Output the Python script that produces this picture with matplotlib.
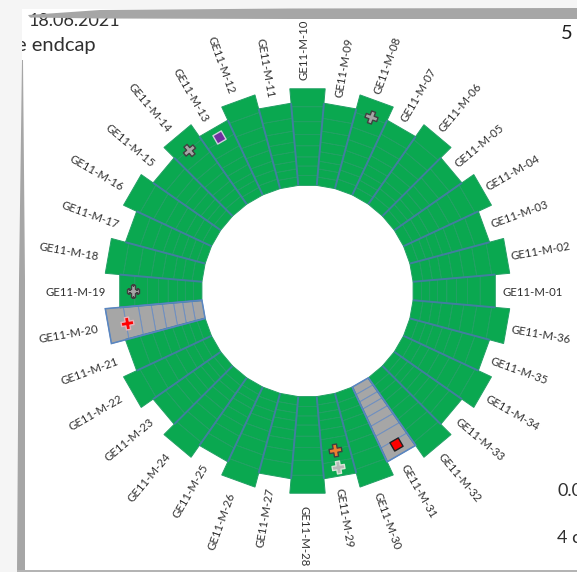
import numpy as np
import matplotlib
matplotlib.use("Agg")
import matplotlib.pyplot as plt
from matplotlib.markers import MarkerStyle
from matplotlib.patches import Polygon, Rectangle
from matplotlib.transforms import Affine2D

W, H = 577, 572
CX, CY = 307.5, 291
R_AX = 262

# chambers, M-01 sits at 0 deg and numbers go counter clockwise
chambers = ["GE11-M-01", "GE11-M-02", "GE11-M-03", "GE11-M-04", "GE11-M-05", "GE11-M-06",
            "GE11-M-07", "GE11-M-08", "GE11-M-09", "GE11-M-10", "GE11-M-11", "GE11-M-12",
            "GE11-M-13", "GE11-M-14", "GE11-M-15", "GE11-M-16", "GE11-M-17", "GE11-M-18",
            "GE11-M-19", "GE11-M-20", "GE11-M-21", "GE11-M-22", "GE11-M-23", "GE11-M-24",
            "GE11-M-25", "GE11-M-26", "GE11-M-27", "GE11-M-28", "GE11-M-29", "GE11-M-30",
            "GE11-M-31", "GE11-M-32", "GE11-M-33", "GE11-M-34", "GE11-M-35", "GE11-M-36"]
long_rows = [106, 116, 125.5, 134.6, 145.8, 157, 170, 185, 203]
short_rows = [106, 114.5, 122.6, 130.4, 139.9, 149.5, 160.6, 173.4, 188.5]
off_chambers = ["GE11-M-20", "GE11-M-31"]

# chamber, radius, fill, edge
markers = [("GE11-M-08", 185, "#a6a6a6", "#404040"),
           ("GE11-M-14", 184, "#a6a6a6", "#404040"),
           ("GE11-M-19", 174.5, "#a6a6a6", "#404040"),
           ("GE11-M-20", 183, "#ff0000", "#e8b0b8"),
           ("GE11-M-29", 161, "#ed7d31", "#404040"),
           ("GE11-M-29", 178.5, "#b8b8b8", "#d8e8d8")]
squares = [("GE11-M-13", 178, "#7030a0", "#d0d0e0"),
           ("GE11-M-31", 177, "#ff0000", "#202020")]

GREEN = "#0aa850"
GREY = "#a6a6a6"
BLUE = "#417f9f"

plt.rcParams["font.family"] = ["Lato", "DejaVu Sans"]
fig = plt.figure(figsize=(W / 100, H / 100), dpi=100, facecolor="white")
ax = fig.add_axes([(CX - R_AX) / W, 1 - (CY + R_AX) / H, 2 * R_AX / W, 2 * R_AX / H], polar=True)
ax.set_ylim(0, R_AX)
ax.axis("off")

half = np.deg2rad(5)


def angle_of(name):
    return chambers.index(name) * 10


def rows_of(name):
    return long_rows if (chambers.index(name) + 1) % 2 == 0 else short_rows


# ax.fill keeps straight edges between the corners, like the cells in the picture
for name in chambers:
    rows = rows_of(name)
    th = np.deg2rad(angle_of(name))
    off = name in off_chambers
    for r0, r1 in zip(rows[:-1], rows[1:]):
        ax.fill([th - half, th + half, th + half, th - half], [r0, r0, r1, r1],
                facecolor=GREY if off else GREEN, edgecolor="#6f8fc0" if off else "#22a064",
                linewidth=0.7, zorder=2)

# blue separators, drawn after all the cells so they stay on top
for name in chambers:
    th = np.deg2rad(angle_of(name))
    ax.plot([th + half] * 2, [short_rows[0], short_rows[-1]], color=BLUE, lw=1.4, zorder=3,
            solid_capstyle="butt")

for name in off_chambers:
    rows = rows_of(name)
    th = np.deg2rad(angle_of(name))
    ax.fill([th - half, th + half, th + half, th - half], [rows[0], rows[0], rows[-1], rows[-1]],
            fill=False, edgecolor="#5a86c0", linewidth=1.1, zorder=3)

for name in chambers:
    deg = angle_of(name)
    th = np.deg2rad(deg)
    # long chamber labels sit a little closer in at the sides than at top and bottom
    r = 243 - 3.5 * np.cos(th) ** 2 if rows_of(name) is long_rows else 228.5
    rot = deg - 180 if 90 < deg < 270 else deg
    ax.annotate(name, xy=(th, r), xytext=(-3, -2), textcoords="offset pixels",
                rotation=rot, rotation_mode="anchor", ha="center", va="center",
                fontsize=8.2, color="#303030", zorder=4)

for name, r, fill, edge in markers:
    deg = angle_of(name)
    ax.scatter(np.deg2rad(deg), r, s=80, c=fill, edgecolors=edge, linewidths=1.0, zorder=5,
               marker=MarkerStyle("P", transform=Affine2D().rotate_deg(deg)))
for name, r, fill, edge in squares:
    deg = angle_of(name)
    ax.scatter(np.deg2rad(deg), r, s=48, c=fill, edgecolors=edge, linewidths=1.0, zorder=5,
               marker=MarkerStyle("s", transform=Affine2D().rotate_deg(deg)))

# slide frame around the picture, pixel coordinates
top = fig.add_axes([0, 0, 1, 1], facecolor="none", zorder=5)
top.set_xlim(0, W)
top.set_ylim(H, 0)
top.axis("off")

top.text(29, 26, "18.06.2021", fontsize=13, color="#303030", va="baseline", zorder=1)
top.text(96, 51, "e endcap", fontsize=14.5, color="#303030", ha="right", va="baseline", zorder=1)
top.text(561, 39, "5", fontsize=14.5, color="#202020", va="baseline", zorder=1)
top.text(557, 496, "0.0", fontsize=13, color="#303030", va="baseline", zorder=1, clip_on=True)
top.text(557, 543, "4 c", fontsize=13, color="#303030", va="baseline", zorder=1, clip_on=True)

bg = "#f5f5f5"
top.add_patch(Rectangle((0, 0), W, 9, color=bg, lw=0, zorder=2))
top.add_patch(Rectangle((0, 0), 22, H, color=bg, lw=0, zorder=2))
top.add_patch(Polygon([(28, 15), (100, 10), (290, 8.5), (W, 8), (W, 19), (290, 19), (100, 18.5), (30, 17.5)],
                      color=GREY, lw=0, zorder=3))
top.add_patch(Polygon([(22, 60), (23, 60), (25, 280), (25, H), (17, H), (19, 280)],
                      color=GREY, lw=0, zorder=3))
top.add_patch(Rectangle((17, 569.5), W, 3, color="#b4b4b4", lw=0, zorder=3))

fig.savefig("out.png", dpi=100)
